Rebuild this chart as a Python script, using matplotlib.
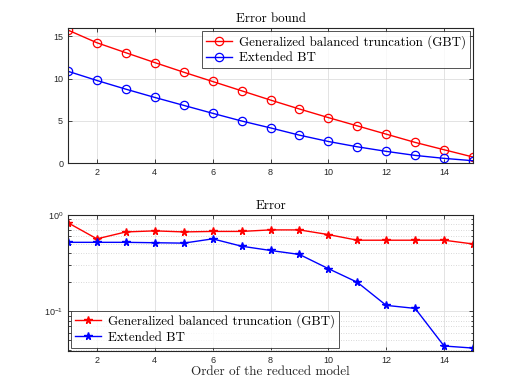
import matplotlib
matplotlib.use("Agg")
import matplotlib.pyplot as plt
from matplotlib.ticker import LogLocator, NullFormatter, FixedLocator

orders = list(range(1, 16))
bound_gbt = [15.75, 14.25, 13.07, 11.9, 10.76, 9.66, 8.56, 7.46, 6.4, 5.38, 4.4, 3.42, 2.44, 1.57, 0.71]
bound_ebt = [10.87, 9.78, 8.75, 7.77, 6.83, 5.89, 4.98, 4.16, 3.3, 2.55, 1.92, 1.38, 0.9, 0.55, 0.27]
err_gbt = [0.83, 0.565, 0.667, 0.684, 0.667, 0.675, 0.675, 0.70, 0.70, 0.626, 0.547, 0.547, 0.547, 0.547, 0.50]
err_ebt = [0.52, 0.52, 0.52, 0.515, 0.51, 0.565, 0.474, 0.428, 0.389, 0.277, 0.20, 0.115, 0.107, 0.0435, 0.0414]
labels = ["Generalized balanced truncation (GBT)", "Extended BT"]
xticks = [2, 4, 6, 8, 10, 12, 14]

serif = "cmr10"
tickfont = "Liberation Sans"
edge = (0.15, 0.15, 0.15)

fig = plt.figure(figsize=(5.23, 3.92), dpi=100)
W, H = 523, 392
ax1 = fig.add_axes([68 / W, 1 - 163 / H, (473 - 68) / W, (163 - 28) / H])
ax2 = fig.add_axes([68 / W, 1 - 351 / H, (473 - 68) / W, (351 - 215) / H])

def style(ax):
    for s in ax.spines.values():
        s.set_color(edge)
        s.set_linewidth(0.8)
    ax.tick_params(which="both", direction="in", top=True, right=True, colors=edge,
                   labelcolor=edge, labelsize=6.5, width=0.6)
    ax.tick_params(which="major", length=3)
    ax.tick_params(which="minor", length=1.8)
    for lab in ax.get_xticklabels() + ax.get_yticklabels():
        lab.set_fontfamily(tickfont)
    ax.set_xlim(1, 15)
    ax.xaxis.set_major_locator(FixedLocator(xticks))
    ax.set_xticklabels([str(t) for t in xticks], fontfamily=tickfont)

# Top axes
ax1.plot(orders, bound_gbt, color="red", marker="o", markerfacecolor="none", markersize=6,
         markeredgewidth=0.9, lw=1.0, label=labels[0])
ax1.plot(orders, bound_ebt, color="blue", marker="o", markerfacecolor="none", markersize=6,
         markeredgewidth=0.9, lw=1.0, label=labels[1])
ax1.set_ylim(0, 16)
ax1.set_yticks([0, 5, 10, 15])
ax1.grid(True, color=(0.87, 0.87, 0.87), lw=0.6)
ax1.set_axisbelow(True)
style(ax1)
ax1.set_yticklabels(["0", "5", "10", "15"], fontfamily=tickfont)
ax1.set_title("Error bound", fontfamily=serif, fontsize=9.3, pad=4)
leg1 = ax1.legend(loc="upper right", prop={"family": serif, "size": 9.4}, frameon=True,
                  fancybox=False, edgecolor=edge, borderaxespad=0.25, handlelength=2.0,
                  borderpad=0.3, labelspacing=0.25, handletextpad=0.5)
leg1.get_frame().set_linewidth(0.7)

# Bottom axes
ax2.semilogy(orders, err_gbt, color="red", marker="*", markersize=5.5, lw=1.0, label=labels[0])
ax2.semilogy(orders, err_ebt, color="blue", marker="*", markersize=5.5, lw=1.0, label=labels[1])
ax2.set_ylim(0.0386, 1)
ax2.yaxis.set_major_locator(LogLocator(base=10, numticks=5))
ax2.yaxis.set_minor_locator(LogLocator(base=10, subs=range(2, 10), numticks=20))
ax2.yaxis.set_minor_formatter(NullFormatter())
ax2.grid(True, which="major", color=(0.87, 0.87, 0.87), lw=0.6)
ax2.grid(True, which="minor", axis="y", color=(0.8, 0.8, 0.8), lw=0.6, linestyle=(0, (1, 2)))
ax2.set_axisbelow(True)
style(ax2)
ax2.set_title("Error", fontfamily=serif, fontsize=9.3, pad=4)
ax2.set_xlabel("Order of the reduced model", fontfamily=serif, fontsize=9.5, labelpad=1, color=edge)
leg2 = ax2.legend(loc="lower left", prop={"family": serif, "size": 9.4}, frameon=True,
                  fancybox=False, edgecolor=edge, borderaxespad=0.25, handlelength=2.0,
                  borderpad=0.3, labelspacing=0.25, handletextpad=0.5)
leg2.get_frame().set_linewidth(0.7)

fig.savefig("out.png", dpi=100)
